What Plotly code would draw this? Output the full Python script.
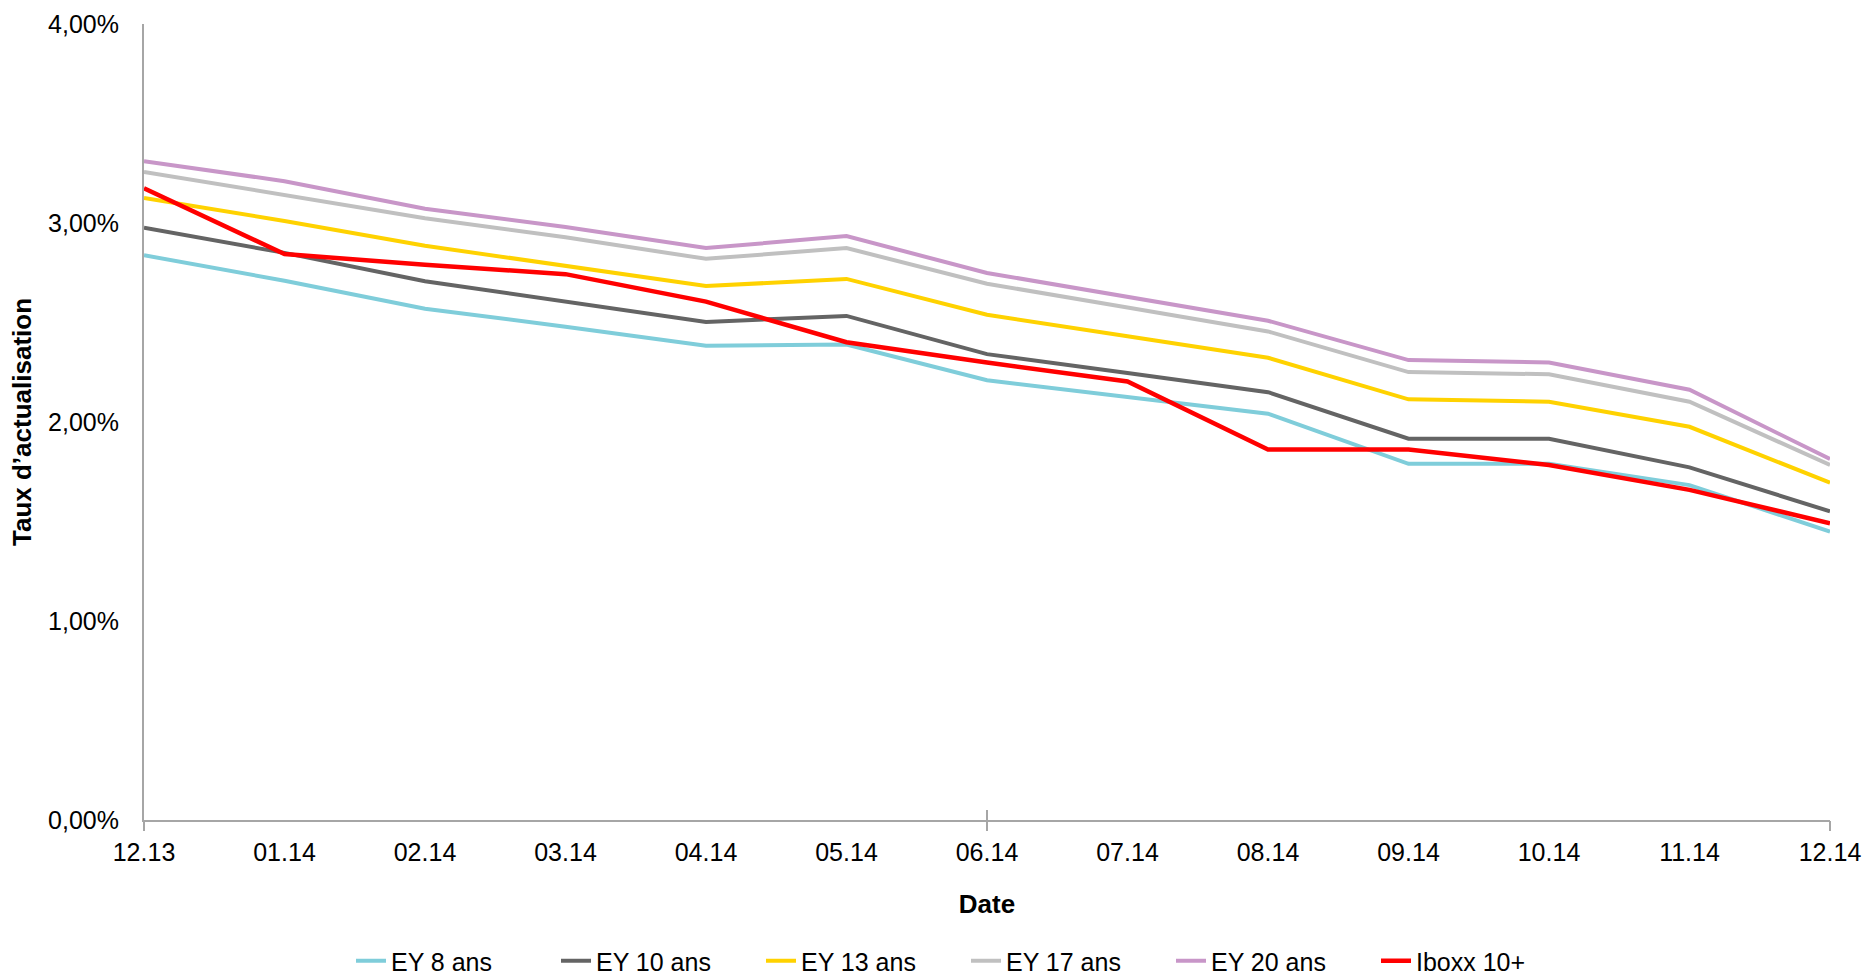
import plotly.graph_objects as go

dates = ["12.13", "01.14", "02.14", "03.14", "04.14", "05.14", "06.14",
         "07.14", "08.14", "09.14", "10.14", "11.14", "12.14"]

ey_8 = [2.838, 2.71, 2.569, 2.479, 2.383, 2.389, 2.210, 2.126, 2.042, 1.790, 1.790, 1.683, 1.449]
ey_10 = [2.976, 2.85, 2.707, 2.605, 2.503, 2.533, 2.341, 2.246, 2.150, 1.916, 1.916, 1.772, 1.551]
ey_13 = [3.126, 3.01, 2.886, 2.784, 2.683, 2.719, 2.539, 2.431, 2.323, 2.114, 2.102, 1.976, 1.695]
ey_17 = [3.257, 3.14, 3.024, 2.928, 2.820, 2.874, 2.695, 2.575, 2.455, 2.251, 2.240, 2.102, 1.784]
ey_20 = [3.311, 3.21, 3.072, 2.980, 2.874, 2.934, 2.749, 2.629, 2.509, 2.311, 2.299, 2.162, 1.814]
iboxx = [3.174, 2.844, 2.790, 2.743, 2.605, 2.401, 2.299, 2.204, 1.862, 1.862, 1.784, 1.659, 1.491]

series_names = ["EY 8 ans", "EY 10 ans", "EY 13 ans", "EY 17 ans", "EY 20 ans", "Iboxx 10+"]
series_values = [ey_8, ey_10, ey_13, ey_17, ey_20, iboxx]
series_colors = ["#7FCDDA", "#646464", "#FFD200", "#C0C0C0", "#C896C8", "#FF0000"]
series_widths = [4, 4, 4, 4, 4, 4.5]

y_tickvals = [0, 0.01, 0.02, 0.03, 0.04]
major_tick_idx = [0, 6, 12]

FONT = "Liberation Sans, Arial, sans-serif"
AXIS_COLOR = "#A6A6A6"

fig = go.Figure()
for name, vals, col, w in zip(series_names, series_values, series_colors, series_widths):
    fig.add_trace(go.Scatter(
        x=dates, y=[v / 100 for v in vals], name=name, mode="lines",
        line=dict(color=col, width=w), xaxis="x", yaxis="y",
    ))

fig.update_layout(
    width=1869, height=974,
    paper_bgcolor="white", plot_bgcolor="white",
    margin=dict(l=144, r=39, t=24, b=154, autoexpand=False),
    separators=", ",
    font=dict(family=FONT, size=25, color="#000000"),
    xaxis=dict(
        type="category", categoryorder="array", categoryarray=dates,
        range=[0, len(dates) - 1], automargin=False,
        showline=True, linecolor=AXIS_COLOR, linewidth=2,
        showgrid=False, zeroline=False, ticks="",
        ticklabelstandoff=9,
        tickfont=dict(size=25),
        title=dict(text="<b>Date</b>", font=dict(size=26), standoff=30),
    ),
    xaxis2=dict(
        overlaying="x", anchor="y", type="linear", automargin=False,
        range=[0, len(dates) - 1], tickvals=major_tick_idx,
        showticklabels=False, ticks="outside", ticklen=10, tickwidth=2,
        tickcolor=AXIS_COLOR, showgrid=False, zeroline=False, showline=False,
    ),
    xaxis3=dict(
        overlaying="x", anchor="y", type="linear", automargin=False,
        range=[0, len(dates) - 1], tickvals=major_tick_idx,
        showticklabels=False, ticks="inside", ticklen=10, tickwidth=2,
        tickcolor=AXIS_COLOR, showgrid=False, zeroline=False, showline=False,
    ),
    yaxis=dict(
        range=[0, 0.04], tickvals=y_tickvals, tickformat=".2%", automargin=False,
        showline=True, linecolor=AXIS_COLOR, linewidth=2,
        showgrid=False, zeroline=False, ticks="",
        ticklabelstandoff=18,
        tickfont=dict(size=25),
        title=dict(text="<b>Taux d’actualisation</b>", font=dict(size=26), standoff=9),
    ),
    legend=dict(
        orientation="h", xref="container", yref="container",
        x=351 / 1869, xanchor="left", y=1 - 938 / 974, yanchor="top",
        entrywidth=160, entrywidthmode="pixels",
        font=dict(size=25), bgcolor="rgba(0,0,0,0)",
    ),
    showlegend=True,
)

# invisible helper traces so the overlaid tick-mark axes are rendered
fig.add_trace(go.Scatter(x=[0], y=[None], xaxis="x2", yaxis="y", showlegend=False, hoverinfo="skip"))
fig.add_trace(go.Scatter(x=[0], y=[None], xaxis="x3", yaxis="y", showlegend=False, hoverinfo="skip"))

fig.write_html(
    "out.html",
    config={"displayModeBar": False},
    post_script="document.body.style.margin='0';document.body.style.overflow='hidden';",
)
